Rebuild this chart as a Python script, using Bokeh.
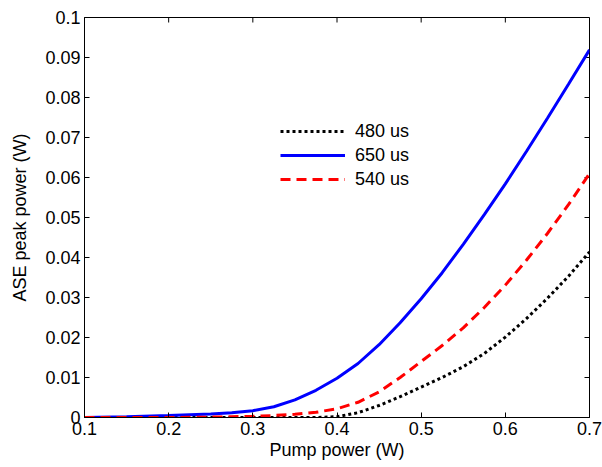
from bokeh.plotting import figure
from bokeh.models import Range1d, FixedTicker, Legend, LegendItem
from bokeh.embed import file_html
from bokeh.resources import INLINE

# ---- data ----
pump = [0.1, 0.15, 0.2, 0.25, 0.275, 0.3, 0.325, 0.35, 0.375, 0.4, 0.425, 0.45, 0.475,
        0.5, 0.525, 0.55, 0.575, 0.6, 0.625, 0.65, 0.675, 0.7]
ase_480 = [0.0, 0.0, 0.0, 0.0, 0.0, 0.0, 0.0, 0.0, 0.0, 0.0002, 0.0012, 0.0030, 0.0052,
           0.0076, 0.0100, 0.0127, 0.0160, 0.0201, 0.0247, 0.0298, 0.0353, 0.0414]
ase_650 = [0.0, 0.0002, 0.0005, 0.0009, 0.0012, 0.0017, 0.0027, 0.0044, 0.0068, 0.0098,
           0.0135, 0.0182, 0.0237, 0.0297, 0.0362, 0.0433, 0.0507, 0.0584, 0.0665, 0.0748,
           0.0833, 0.0919]
ase_540 = [0.0, 0.0, 0.0, 0.0001, 0.0002, 0.0003, 0.0005, 0.0008, 0.0013, 0.0022, 0.0038,
           0.0064, 0.0100, 0.0140, 0.0180, 0.0224, 0.0275, 0.0331, 0.0393, 0.0460, 0.0532,
           0.0610]

x_ticks = [0.1, 0.2, 0.3, 0.4, 0.5, 0.6, 0.7]
y_ticks = [0, 0.01, 0.02, 0.03, 0.04, 0.05, 0.06, 0.07, 0.08, 0.09, 0.1]
y_tick_labels = ["0", "0.01", "0.02", "0.03", "0.04", "0.05", "0.06", "0.07", "0.08", "0.09", "0.1"]

FONT = "Liberation Sans"
FS = "18px"
X0, X1, Y0, Y1 = 0.1, 0.7, 0.0, 0.1
FW, FH = 505, 400

p = figure(width=602, height=467, output_backend="svg", toolbar_location=None,
           x_range=Range1d(X0, X1), y_range=Range1d(Y0, Y1),
           x_axis_label="Pump power (W)", y_axis_label="ASE peak power (W)",
           min_border_left=84, min_border_top=17, min_border_right=13, min_border_bottom=50)
p.xgrid.visible = False
p.ygrid.visible = False
p.outline_line_color = "black"
p.outline_line_width = 1
p.background_fill_color = "white"
p.border_fill_color = "white"

for ax, ticks in ((p.xaxis[0], x_ticks), (p.yaxis[0], y_ticks)):
    ax.ticker = FixedTicker(ticks=ticks)
    ax.minor_tick_line_color = None
    ax.major_tick_in = 5
    ax.major_tick_out = 0
    ax.axis_line_color = "black"
    ax.major_tick_line_color = "black"
    ax.major_label_text_font = FONT
    ax.major_label_text_font_size = FS
    ax.major_label_text_color = "black"
    ax.major_label_standoff = 4
    ax.axis_label_text_font = FONT
    ax.axis_label_text_font_size = FS
    ax.axis_label_text_font_style = "normal"
    ax.axis_label_text_color = "black"
p.xaxis[0].axis_label_standoff = 2
p.yaxis[0].axis_label_standoff = 12
p.yaxis[0].major_label_overrides = {t: l for t, l in zip(y_ticks, y_tick_labels)}

# inner ticks on the top and right edges (MATLAB box style)
px_x = (X1 - X0) / FW
px_y = (Y1 - Y0) / FH
p.segment(x0=x_ticks, y0=[Y1] * len(x_ticks), x1=x_ticks, y1=[Y1 - 5 * px_y] * len(x_ticks),
          line_color="black", line_width=1)
p.segment(x0=[X1] * len(y_ticks), y0=y_ticks, x1=[X1 - 5 * px_x] * len(y_ticks), y1=y_ticks,
          line_color="black", line_width=1)

r480 = p.line(pump, ase_480, line_color="black", line_width=3, line_dash="3 3")
r650 = p.line(pump, ase_650, line_color="#0000ff", line_width=3)
r540 = p.line(pump, ase_540, line_color="#ff0000", line_width=3, line_dash="10 6")

legend = Legend(items=[LegendItem(label="480 us", renderers=[r480]),
                       LegendItem(label="650 us", renderers=[r650]),
                       LegendItem(label="540 us", renderers=[r540])],
                location=(196, 226))
legend.border_line_color = None
legend.background_fill_alpha = 0
legend.padding = 0
legend.margin = 0
legend.spacing = 0
legend.glyph_width = 65
legend.glyph_height = 24
legend.label_height = 24
legend.label_standoff = 10
legend.label_text_font = FONT
legend.label_text_font_size = FS
legend.label_text_color = "black"
p.add_layout(legend, "center")

open("out.html", "w").write(file_html(p, INLINE))
